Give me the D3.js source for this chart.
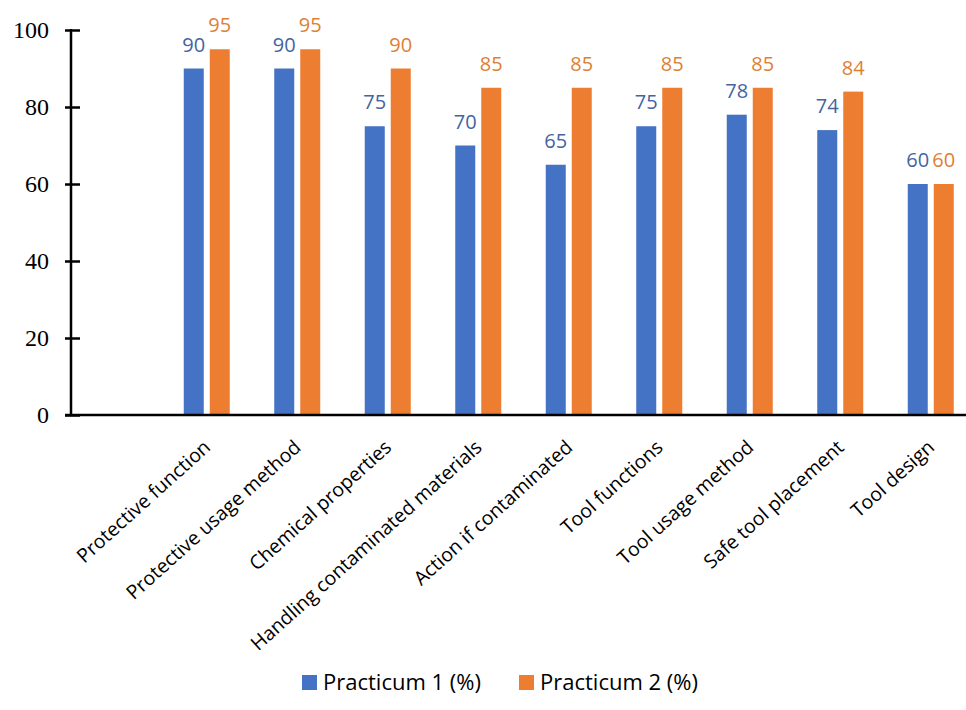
<!DOCTYPE html>
<html>
<head>
<meta charset="utf-8">
<script src="https://cdn.jsdelivr.net/npm/d3@7"></script>
<style>
  html, body { margin: 0; padding: 0; background: #fff; }
  svg { display: block; }
</style>
</head>
<body>
<svg id="chart" width="966" height="710"></svg>
<script>
// Categories (first slot is left empty on the axis)
const categories = ["", "Protective function", "Protective usage method", "Chemical properties",
  "Handling contaminated materials", "Action if contaminated", "Tool functions",
  "Tool usage method", "Safe tool placement", "Tool design"];
const seriesNames = ["Practicum 1 (%)", "Practicum 2 (%)"];
const practicum1 = [null, 90, 90, 75, 70, 65, 75, 78, 74, 60];
const practicum2 = [null, 95, 95, 90, 85, 85, 85, 85, 84, 60];
const yTicks = [0, 20, 40, 60, 80, 100];

const barColors = ["#4472C4", "#ED7D31"];
const labelColors = ["#44649f", "#de7f35"];

const svg = d3.select("#chart");
const plot = { left: 71, top: 30, bottom: 415, right: 976 };

const x = d3.scaleBand().domain(categories.map((c, i) => i)).range([plot.left, plot.right]).padding(0);
const y = d3.scaleLinear().domain([0, 100]).range([plot.bottom, plot.top]);

const barW = 20, gapW = 6;
const seriesData = [practicum1, practicum2];

// Bars and value labels
seriesData.forEach((vals, s) => {
  const g = svg.append("g");
  const pts = vals.map((v, i) => ({ v, i })).filter(d => d.v != null);
  const xOff = s === 0 ? -(barW + gapW / 2) : gapW / 2;
  g.selectAll("rect").data(pts).join("rect")
    .attr("x", d => x(d.i) + x.bandwidth() / 2 + xOff)
    .attr("y", d => y(d.v))
    .attr("width", barW)
    .attr("height", d => y(0) - y(d.v))
    .attr("fill", barColors[s]);
  g.selectAll("text").data(pts).join("text")
    .attr("x", d => x(d.i) + x.bandwidth() / 2 + xOff + barW / 2)
    .attr("y", d => y(d.v) - 17)
    .attr("text-anchor", "middle")
    .attr("font-family", "Open Sans, sans-serif")
    .attr("font-size", 20)
    .attr("fill", labelColors[s])
    .text(d => d.v);
});

// Y axis with ticks crossing the line
const yAxis = d3.axisLeft(y).tickValues(yTicks).tickSize(0).tickPadding(22);
const yg = svg.append("g").attr("transform", `translate(${plot.left},0)`).call(yAxis);
yg.select(".domain").remove();
yg.selectAll(".tick text")
  .attr("font-family", "Liberation Serif, Times New Roman, serif")
  .attr("font-size", 24)
  .attr("fill", "#000");
yg.selectAll(".tick").append("line")
  .attr("x1", -6).attr("x2", 9)
  .attr("stroke", "#000").attr("stroke-width", 2.5);
svg.append("line")
  .attr("x1", plot.left).attr("x2", plot.left)
  .attr("y1", y(100) - 1).attr("y2", y(0))
  .attr("stroke", "#000").attr("stroke-width", 2.5);

// X axis baseline
svg.append("line")
  .attr("x1", plot.left - 6).attr("x2", 966)
  .attr("y1", y(0)).attr("y2", y(0))
  .attr("stroke", "#000").attr("stroke-width", 2.5);

// Rotated category labels
svg.append("g").selectAll("text")
  .data(categories.map((c, i) => ({ c, i })).filter(d => d.c))
  .join("text")
  .attr("transform", d => `translate(${x(d.i) + x.bandwidth() / 2 + 5},${plot.bottom + 34}) rotate(-42)`)
  .attr("text-anchor", "end")
  .attr("font-family", "Open Sans, sans-serif")
  .attr("font-size", 19.5)
  .attr("fill", "#000")
  .text(d => d.c);

// Legend
const legendItems = [{ name: seriesNames[0], x: 302 }, { name: seriesNames[1], x: 519 }];
const lg = svg.append("g");
legendItems.forEach((it, s) => {
  lg.append("rect").attr("x", it.x).attr("y", 675).attr("width", 15).attr("height", 15)
    .attr("fill", barColors[s]);
  lg.append("text").attr("x", it.x + 21).attr("y", 690)
    .attr("font-family", "Open Sans, sans-serif").attr("font-size", 22)
    .attr("fill", "#000").text(it.name);
});
</script>
</body>
</html>
